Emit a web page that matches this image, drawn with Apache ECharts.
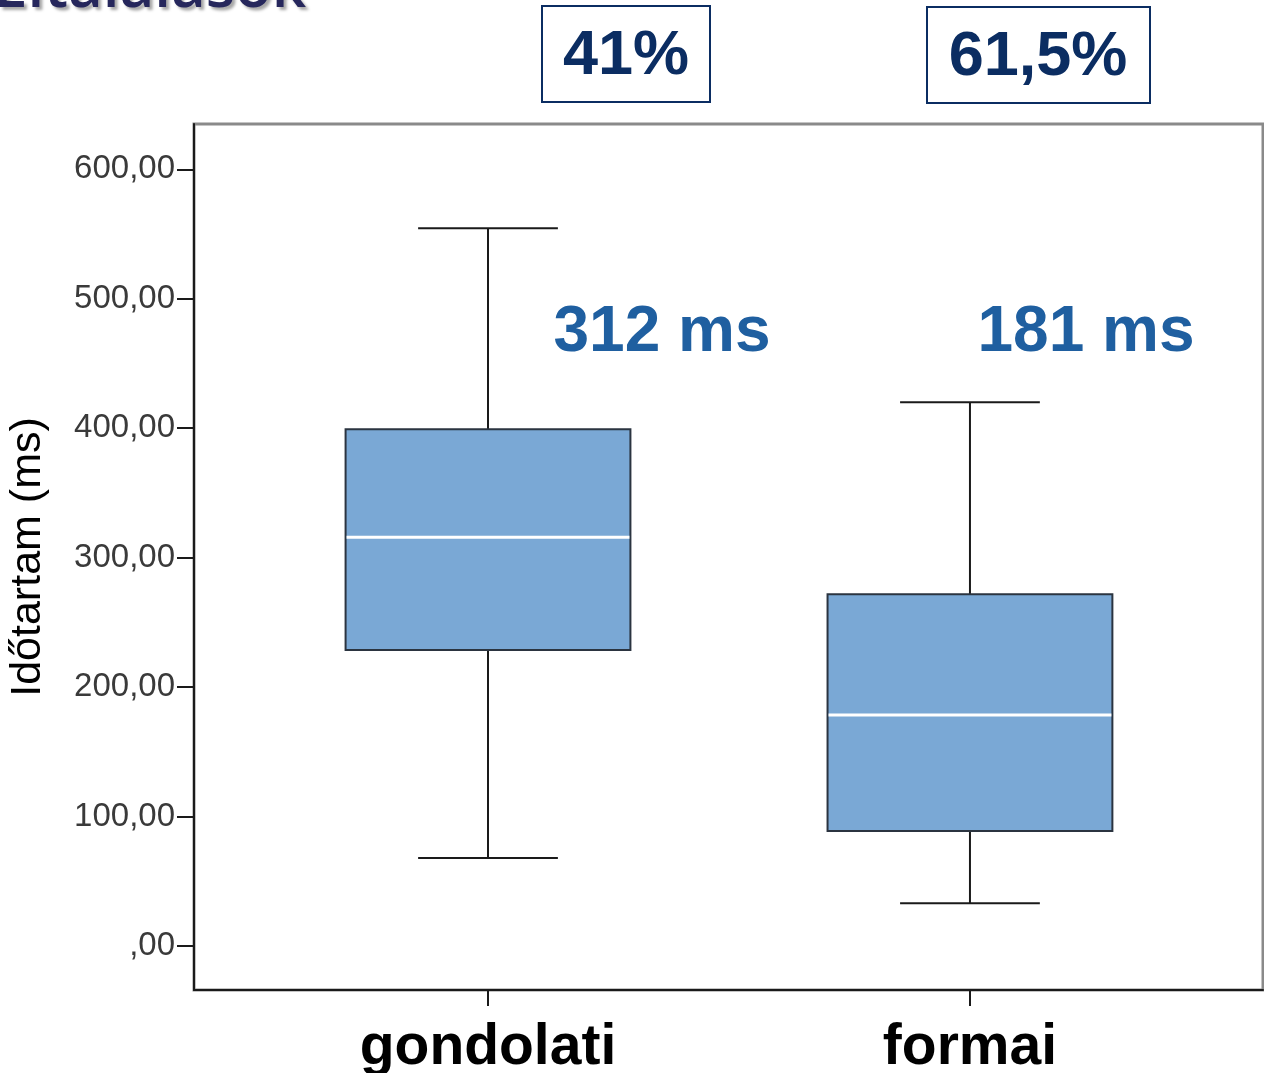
<!DOCTYPE html>
<html>
<head>
<meta charset="utf-8">
<script src="https://cdn.jsdelivr.net/npm/echarts@6/dist/echarts.min.js"></script>
<style>
html,body{margin:0;padding:0;background:#fff;}
#chart{width:1264px;height:1073px;}
</style>
</head>
<body>
<div id="chart"></div>
<script>
// Data
const categories = ['gondolati', 'formai'];
const whiskerLow  = [68, 33];
const q1          = [228.6, 88.8];
const medians     = [315.8, 178.4];
const q3          = [399.2, 271.8];
const whiskerHigh = [554.4, 420.1];
const yTicks = [0, 100, 200, 300, 400, 500, 600];
const meanLabels = ['312 ms', '181 ms'];
const hitLabels = ['41%', '61,5%'];
const titleText = 'Eltalálások';
const yTitle = 'Időtartam (ms)';

const boxData = categories.map((c, i) => [i, whiskerLow[i], q1[i], medians[i], q3[i], whiskerHigh[i]]);

const chart = echarts.init(document.getElementById('chart'));

function renderBox(params, api) {
  const x = api.value(0);
  const lo = api.coord([x, api.value(1)]);
  const b1 = api.coord([x, api.value(2)]);
  const md = api.coord([x, api.value(3)]);
  const b3 = api.coord([x, api.value(4)]);
  const hi = api.coord([x, api.value(5)]);
  const boxW = api.size([0.591, 0])[0];
  const capW = api.size([0.29, 0])[0];
  const cx = lo[0];
  const lineStyle = {stroke: '#1a1a1a', lineWidth: 2};
  return {
    type: 'group',
    children: [
      {type: 'line', shape: {x1: cx, y1: hi[1], x2: cx, y2: b3[1]}, style: lineStyle},
      {type: 'line', shape: {x1: cx, y1: b1[1], x2: cx, y2: lo[1]}, style: lineStyle},
      {type: 'line', shape: {x1: cx - capW / 2, y1: hi[1], x2: cx + capW / 2, y2: hi[1]}, style: lineStyle},
      {type: 'line', shape: {x1: cx - capW / 2, y1: lo[1], x2: cx + capW / 2, y2: lo[1]}, style: lineStyle},
      {type: 'rect', shape: {x: cx - boxW / 2, y: b3[1], width: boxW, height: b1[1] - b3[1]},
        style: {fill: '#7aa8d5', stroke: '#2b3440', lineWidth: 2}},
      {type: 'line', shape: {x1: cx - boxW / 2 + 1, y1: md[1], x2: cx + boxW / 2 - 1, y2: md[1]},
        style: {stroke: '#ffffff', lineWidth: 3}}
    ]
  };
}

const option = {
  animation: false,
  backgroundColor: '#ffffff',
  grid: {left: 194, right: 1, top: 124, bottom: 83, show: true, borderColor: '#8a8a8a', borderWidth: 3, containLabel: false, outerBoundsMode: 'none'},
  xAxis: {
    type: 'value', min: -0.61, max: 1.608,
    axisLine: {show: true, onZero: false, lineStyle: {color: '#1a1a1a', width: 2}},
    axisTick: {show: true, inside: false, length: 16, customValues: [0, 1], lineStyle: {color: '#1a1a1a', width: 2}},
    axisLabel: {
      show: true, customValues: [0, 1], margin: 30,
      formatter: v => categories[Math.round(v)] || '',
      fontFamily: 'Liberation Sans, Arial', fontWeight: 'bold', fontSize: 57, color: '#000'
    },
    splitLine: {show: false}
  },
  yAxis: {
    type: 'value', min: -34, max: 635,
    name: yTitle, nameLocation: 'middle', nameGap: 144, nameRotate: 90,
    nameTextStyle: {fontFamily: 'Liberation Sans, Arial', fontSize: 43, color: '#000'},
    axisLine: {show: true, onZero: false, lineStyle: {color: '#1a1a1a', width: 2}},
    axisTick: {show: true, inside: false, length: 17, customValues: yTicks, lineStyle: {color: '#1a1a1a', width: 2}},
    axisLabel: {
      show: true, customValues: yTicks, margin: 19,
      formatter: v => (v === 0 ? ',00' : v + ',00'),
      fontFamily: 'Liberation Sans, Arial', fontSize: 33, color: '#3a3a3a'
    },
    splitLine: {show: false}
  },
  series: [{
    type: 'custom',
    renderItem: renderBox,
    data: boxData,
    encode: {x: 0, y: [1, 2, 3, 4, 5]},
    clip: false,
    z: 3
  }],
  graphic: [
    {type: 'text', left: -6, top: -40, z: 20, style: {text: titleText, fontFamily: 'Open Sans', fontWeight: 600, fontSize: 60, fill: '#26275c', opacity: 1, textShadowColor: 'rgba(0,0,0,0.35)', textShadowOffsetX: 3, textShadowOffsetY: 3, textShadowBlur: 3}},
    {type: 'rect', shape: {x: 542, y: 6, width: 168, height: 96}, style: {fill: '#fff', stroke: '#0b2d62', lineWidth: 2}},
    {type: 'text', x: 626, y: 57, z: 10, style: {text: hitLabels[0], align: 'center', verticalAlign: 'middle', fontFamily: 'Liberation Sans, Arial', fontWeight: 'bold', fontSize: 63, fill: '#0b2d62'}},
    {type: 'rect', shape: {x: 927, y: 7, width: 223, height: 96}, style: {fill: '#fff', stroke: '#0b2d62', lineWidth: 2}},
    {type: 'text', x: 1038, y: 58, z: 10, style: {text: hitLabels[1], align: 'center', verticalAlign: 'middle', fontFamily: 'Liberation Sans, Arial', fontWeight: 'bold', fontSize: 63, fill: '#0b2d62'}},
    {type: 'text', x: 662, y: 333, z: 10, style: {text: meanLabels[0], align: 'center', verticalAlign: 'middle', fontFamily: 'Liberation Sans, Arial', fontWeight: 'bold', fontSize: 64, fill: '#1f5fa0'}},
    {type: 'text', x: 1086, y: 333, z: 10, style: {text: meanLabels[1], align: 'center', verticalAlign: 'middle', fontFamily: 'Liberation Sans, Arial', fontWeight: 'bold', fontSize: 64, fill: '#1f5fa0'}}
  ]
};
chart.setOption(option);
</script>
</body>
</html>
